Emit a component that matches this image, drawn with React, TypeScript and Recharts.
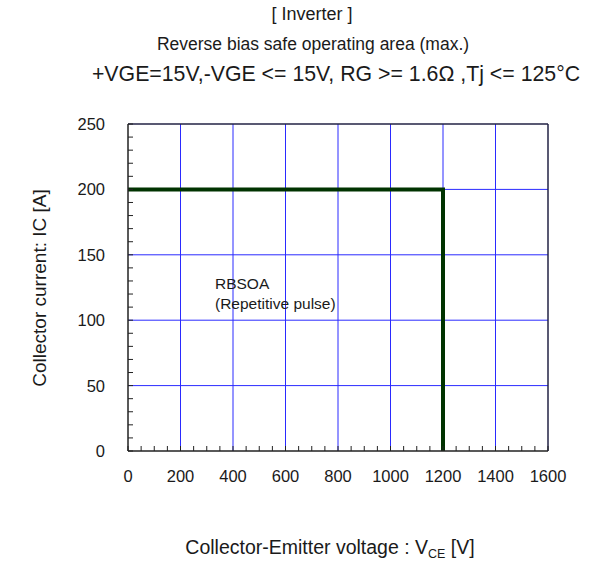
import React from "react";
import { LineChart, Line, XAxis, YAxis, ReferenceLine } from "recharts";

// Data
const voltage = [0, 1200, 1200];
const current = [200, 200, 0];
const xMajor = [0, 200, 400, 600, 800, 1000, 1200, 1400, 1600];
const yMajor = [0, 50, 100, 150, 200, 250];
const xMinorStep = 50;
const yMinorStep = 10;
const titleLines = [
  "[ Inverter ]",
  "Reverse bias safe operating area (max.)",
  "+VGE=15V,-VGE <= 15V, RG >= 1.6Ω ,Tj <= 125°C",
];
const annotation = ["RBSOA", "(Repetitive pulse)"];

const data = voltage.map((v, i) => ({ v, ic: current[i] }));
const xTicks = Array.from({ length: 1600 / xMinorStep + 1 }, (_, i) => i * xMinorStep);
const yTicks = Array.from({ length: 250 / yMinorStep + 1 }, (_, i) => i * yMinorStep);

const W = 593;
const H = 561;
const FONT = '"Liberation Sans", Arial, sans-serif';
const TXT = "#1a1a1a";

const XTick = (props: any) => {
  const { x, y, payload } = props;
  const major = payload.value % 200 === 0;
  return (
    <g>
      <line x1={x} x2={x} y1={y} y2={y - 5} stroke="#222" strokeWidth={1} />
      {major && (
        <text x={x} y={y + 31} textAnchor="middle" fontSize={16.5} fontFamily={FONT} fill={TXT}>
          {payload.value}
        </text>
      )}
    </g>
  );
};

const YTick = (props: any) => {
  const { x, y, payload } = props;
  const major = payload.value % 50 === 0;
  return (
    <g>
      <line x1={x} x2={x + 5} y1={y} y2={y} stroke="#222" strokeWidth={1} />
      {major && (
        <text x={x - 23} y={y + 6} textAnchor="end" fontSize={16.5} fontFamily={FONT} fill={TXT}>
          {payload.value}
        </text>
      )}
    </g>
  );
};

export default function App() {
  return (
    <div style={{ position: "absolute", left: 0, top: 0, width: W, height: H, background: "#fff" }}>
      <LineChart
        width={W}
        height={H}
        data={data}
        margin={{ top: 123, right: 44, bottom: 80, left: 68 }}
      >
        <XAxis
          dataKey="v"
          type="number"
          domain={[0, 1600]}
          ticks={xTicks}
          interval={0}
          tick={<XTick />}
          tickLine={false}
          tickSize={0}
          tickMargin={0}
          height={30}
          axisLine={{ stroke: "#222", strokeWidth: 1.5 }}
        />
        <XAxis
          xAxisId="top"
          orientation="top"
          type="number"
          domain={[0, 1600]}
          tick={false}
          tickLine={false}
          height={1}
          axisLine={{ stroke: "#222244", strokeWidth: 1.5 }}
        />
        <YAxis
          type="number"
          domain={[0, 250]}
          ticks={yTicks}
          interval={0}
          tick={<YTick />}
          tickLine={false}
          tickSize={0}
          tickMargin={0}
          width={60}
          axisLine={{ stroke: "#222", strokeWidth: 1.5 }}
        />
        <YAxis
          yAxisId="right"
          orientation="right"
          type="number"
          domain={[0, 250]}
          tick={false}
          tickLine={false}
          width={1}
          axisLine={{ stroke: "#222244", strokeWidth: 1.5 }}
        />
        {xMajor
          .filter((v) => v > 0 && v < 1600)
          .map((v) => (
            <ReferenceLine key={"gx" + v} x={v} stroke="#2a2aff" strokeWidth={1} />
          ))}
        {yMajor
          .filter((v) => v > 0 && v < 250)
          .map((v) => (
            <ReferenceLine key={"gy" + v} y={v} stroke="#2a2aff" strokeWidth={1} />
          ))}
        <Line
          dataKey="ic"
          type="linear"
          stroke="#003300"
          strokeWidth={4}
          dot={false}
          isAnimationActive={false}
        />
      </LineChart>
      <svg
        width={W}
        height={H}
        style={{ position: "absolute", left: 0, top: 0, pointerEvents: "none" }}
        fontFamily={FONT}
      >
        <text x={312} y={20} textAnchor="middle" fontSize={18} fill={TXT}>{titleLines[0]}</text>
        <text x={313} y={50} textAnchor="middle" fontSize={17.5} fill={TXT}>{titleLines[1]}</text>
        <text x={336} y={80.5} textAnchor="middle" fontSize={21.3} fill={TXT}>{titleLines[2]}</text>
        <text x={215} y={289} fontSize={15.5} fill={TXT}>{annotation[0]}</text>
        <text x={215} y={309} fontSize={15.5} fill={TXT}>{annotation[1]}</text>
        <text
          transform="translate(46,288) rotate(-90)"
          textAnchor="middle"
          fontSize={19}
          fill={TXT}
        >
          Collector current: IC [A]
        </text>
        <text x={330} y={554} textAnchor="middle" fontSize={19.5} fill={TXT}>
          Collector-Emitter voltage : V
          <tspan fontSize={12.5} dy={4}>CE</tspan>
          <tspan dy={-4}> [V]</tspan>
        </text>
      </svg>
    </div>
  );
}
